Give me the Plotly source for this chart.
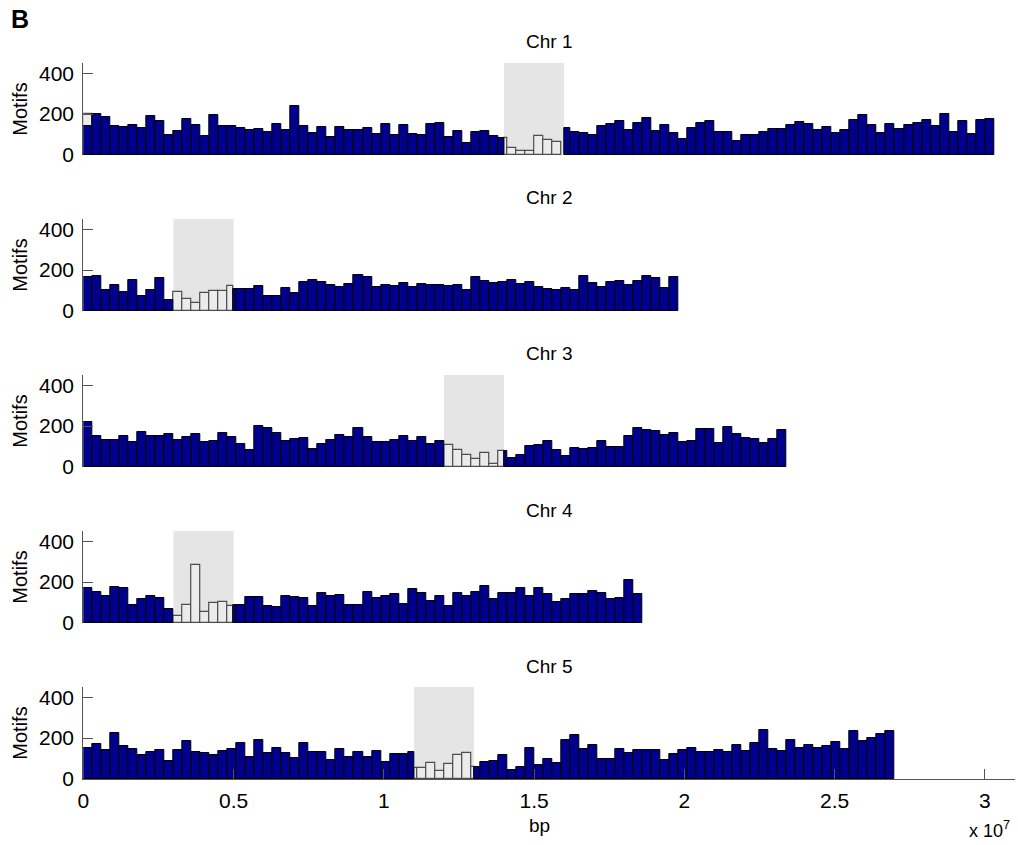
import plotly.graph_objects as go

# ---- data -------------------------------------------------------------
BIN_BP = 300_000          # histogram bin width (bp)
X_MAX = 3.1e7

chrom_names = ["Chr 1", "Chr 2", "Chr 3", "Chr 4", "Chr 5"]
cen_start = [14.0e6, 3.0e6, 12.0e6, 3.0e6, 11.0e6]
cen_end = [16.0e6, 5.0e6, 14.0e6, 5.0e6, 13.0e6]

# motif counts per 300 kb bin outside the centromere (None = bin lies fully inside)
chr1_arm = [142, 200, 186, 142, 138, 147, 134, 191, 167, 99,
            118, 178, 147, 94, 196, 142, 142, 134, 123, 128,
            113, 152, 123, 240, 142, 108, 138, 89, 138, 123,
            123, 133, 104, 152, 99, 147, 104, 99, 152, 157,
            89, 118, 60, 113, 118, 94, 84, None, None, None,
            None, None, None, 133, 113, 108, 99, 142, 152, 167,
            123, 157, 181, 118, 147, 108, 79, 133, 157, 167,
            113, 113, 70, 99, 99, 113, 128, 128, 147, 162,
            152, 123, 138, 108, 123, 172, 196, 147, 108, 152,
            128, 147, 157, 172, 142, 201, 113, 167, 104, 172,
            178]
chr2_arm = [168, 171, 103, 129, 94, 153, 74, 103, 161, 55,
            None, None, None, None, None, None, 108, 108, 108, 123,
            74, 74, 113, 89, 142, 153, 142, 127, 119, 132,
            176, 166, 118, 127, 123, 137, 118, 132, 127, 127,
            123, 127, 103, 166, 148, 137, 142, 153, 132, 142,
            118, 110, 103, 113, 103, 171, 137, 118, 142, 148,
            127, 148, 171, 161, 113, 166]
chr3_arm = [221, 153, 133, 133, 153, 124, 172, 153, 153, 163,
            133, 148, 163, 124, 128, 167, 148, 114, 85, 202,
            192, 167, 128, 138, 143, 89, 114, 133, 158, 148,
            192, 148, 124, 124, 133, 153, 128, 148, 114, 128,
            None, None, None, None, None, None, 80, 44, 60, 102,
            107, 128, 85, 55, 93, 89, 93, 128, 98, 98,
            153, 192, 182, 177, 156, 167, 122, 128, 187, 187,
            117, 197, 163, 143, 138, 117, 138, 182]
chr4_arm = [170, 151, 131, 175, 170, 87, 117, 131, 121, 68,
            None, None, None, None, None, None, 87, 87, 126, 126,
            83, 78, 131, 126, 121, 83, 146, 131, 136, 87,
            87, 151, 121, 131, 141, 92, 165, 146, 107, 131,
            83, 146, 131, 151, 180, 117, 146, 146, 170, 133,
            170, 141, 102, 117, 141, 141, 155, 146, 117, 121,
            209, 141]
chr5_arm = [152, 172, 144, 223, 159, 149, 115, 130, 144, 90,
            144, 184, 130, 125, 115, 139, 149, 174, 110, 189,
            125, 154, 125, 105, 174, 130, 130, 95, 149, 110,
            134, 110, 139, 85, 123, 123, 134, None, None, None,
            None, None, None, 57, 84, 89, 118, 44, 59, 154,
            69, 100, 79, 192, 213, 148, 167, 100, 100, 148,
            128, 144, 141, 144, 93, 120, 144, 154, 133, 133,
            144, 133, 164, 139, 174, 239, 148, 139, 190, 154,
            167, 154, 159, 179, 148, 233, 184, 203, 221, 233]

# motif counts per bin inside the centromere, starting at the given bin index
cen_first_bin = [46, 10, 40, 10, 36]
chr1_cen = [84, 36, 21, 21, 94, 74, 65]
chr2_cen = [94, 60, 40, 89, 98, 98, 123]
chr3_cen = [109, 85, 60, 41, 70, 16, 80]
chr4_cen = [32, 87, 282, 53, 97, 102, 83]
chr5_cen = [52, 52, 79, 41, 74, 118, 128, 57]

# extra outlined count stacked behind the first Chr 1 bin
chr1_first_bin_total = 200

arm_counts = [chr1_arm, chr2_arm, chr3_arm, chr4_arm, chr5_arm]
cen_counts = [chr1_cen, chr2_cen, chr3_cen, chr4_cen, chr5_cen]

# ---- styling -----------------------------------------------------------
W, H = 1018, 845
BLUE = "#00008C"
CEN_FILL = "#EBEBEB"
CEN_EDGE = "#4D4D4D"
SHADE = "#E5E5E5"
AXIS = "#555555"
FONT = "Liberation Sans, Arial, sans-serif"
FS_TICK = 21
FS_LABEL = 20
FS_TITLE = 19

x_dom = [83.3 / W, 1015 / W]
panel_top_px = [63, 219, 375, 531, 687]
panel_h_px = 92

fig = go.Figure()


def segments(lo, hi, a, b):
    """Split the bin [lo, hi) into pieces outside / inside the region [a, b)."""
    inside = (max(lo, a), min(hi, b)) if min(hi, b) > max(lo, a) else None
    outside = []
    if lo < a:
        outside.append((lo, min(hi, a)))
    if hi > b:
        outside.append((max(lo, b), hi))
    return outside, inside


for i in range(5):
    xa = "x" if i == 0 else f"x{i + 1}"
    ya = "y" if i == 0 else f"y{i + 1}"
    a, b = cen_start[i], cen_end[i]

    # centromere band
    fig.add_shape(type="rect", xref=xa, yref=ya, x0=a, x1=b, y0=0, y1=450,
                  fillcolor=SHADE, line_width=0, layer="below")

    # centromeric bins (light bars)
    wx, ww, wy = [], [], []
    for k, c in enumerate(cen_counts[i]):
        idx = cen_first_bin[i] + k
        lo, hi = idx * BIN_BP, (idx + 1) * BIN_BP
        _, ins = segments(lo, hi, a, b)
        if ins is None:
            ins = (lo, hi)
        wx.append((ins[0] + ins[1]) / 2)
        ww.append(ins[1] - ins[0])
        wy.append(c)
    if i == 0:
        wx.append(BIN_BP / 2)
        ww.append(BIN_BP)
        wy.append(chr1_first_bin_total)
    fig.add_trace(go.Bar(x=wx, y=wy, width=ww, base=0, xaxis=xa, yaxis=ya,
                         marker=dict(color=CEN_FILL,
                                     line=dict(color=CEN_EDGE, width=1.2)),
                         showlegend=False, hoverinfo="skip"))

    # arm bins (dark blue bars)
    bx, bw, by = [], [], []
    for idx, c in enumerate(arm_counts[i]):
        if c is None:
            continue
        lo, hi = idx * BIN_BP, (idx + 1) * BIN_BP
        outs, _ = segments(lo, hi, a, b)
        for s0, s1 in outs:
            bx.append((s0 + s1) / 2)
            bw.append(s1 - s0)
            by.append(c)
    fig.add_trace(go.Bar(x=bx, y=by, width=bw, base=0, xaxis=xa, yaxis=ya,
                         marker=dict(color=BLUE, line=dict(color="#000000", width=1)),
                         showlegend=False, hoverinfo="skip"))

    top = panel_top_px[i]
    y_dom = [1 - (top + panel_h_px) / H, 1 - top / H]
    last = i == 4

    xaxis = dict(domain=x_dom, range=[0, X_MAX], anchor=ya,
                 showgrid=False, zeroline=False, automargin=False,
                 showline=last, linecolor=AXIS, linewidth=1.2,
                 ticks="inside" if last else "", ticklen=10, tickcolor=AXIS,
                 tickvals=[0, 0.5e7, 1e7, 1.5e7, 2e7, 2.5e7, 3e7],
                 ticktext=["0", "0.5", "1", "1.5", "2", "2.5", "3"],
                 showticklabels=last, ticklabelstandoff=3,
                 tickfont=dict(family=FONT, size=FS_TICK, color="#000"))
    yaxis = dict(domain=y_dom, range=[0, 450], anchor=xa,
                 showgrid=False, zeroline=False, automargin=False,
                 showline=True, linecolor=AXIS, linewidth=1.2,
                 ticks="inside", ticklen=10, tickcolor=AXIS,
                 tickvals=[0, 200, 400], ticklabelstandoff=4,
                 tickfont=dict(family=FONT, size=FS_TICK, color="#000"),
                 title=dict(text="Motifs", standoff=5,
                            font=dict(family=FONT, size=FS_LABEL, color="#000")))
    key = "" if i == 0 else str(i + 1)
    fig.layout["xaxis" + key] = xaxis
    fig.layout["yaxis" + key] = yaxis

    fig.add_annotation(text=chrom_names[i], xref="paper", yref="paper",
                       x=(x_dom[0] + x_dom[1]) / 2, y=1 - (top - 21) / H,
                       xanchor="center", yanchor="middle", showarrow=False,
                       font=dict(family=FONT, size=FS_TITLE, color="#000"))

# panel letter, axis label and exponent
fig.add_annotation(text="<b>B</b>", xref="paper", yref="paper",
                   x=9 / W, y=1 - 19 / H, xanchor="left", yanchor="middle",
                   showarrow=False, font=dict(family=FONT, size=25, color="#000"))
fig.add_annotation(text="bp", xref="paper", yref="paper",
                   x=(x_dom[0] + x_dom[1]) / 2 - 10 / W, y=1 - 825 / H,
                   xanchor="center", yanchor="middle", showarrow=False,
                   font=dict(family=FONT, size=FS_TITLE, color="#000"))
fig.add_annotation(text="x 10<sup>7</sup>", xref="paper", yref="paper",
                   x=1012 / W, y=1 - 829 / H, xanchor="right", yanchor="middle",
                   showarrow=False, font=dict(family=FONT, size=FS_TITLE - 1, color="#000"))

fig.update_layout(width=W, height=H, margin=dict(l=0, r=0, t=0, b=0),
                  barmode="overlay", bargap=0, plot_bgcolor="white",
                  paper_bgcolor="white")

fig.write_html("out.html")
